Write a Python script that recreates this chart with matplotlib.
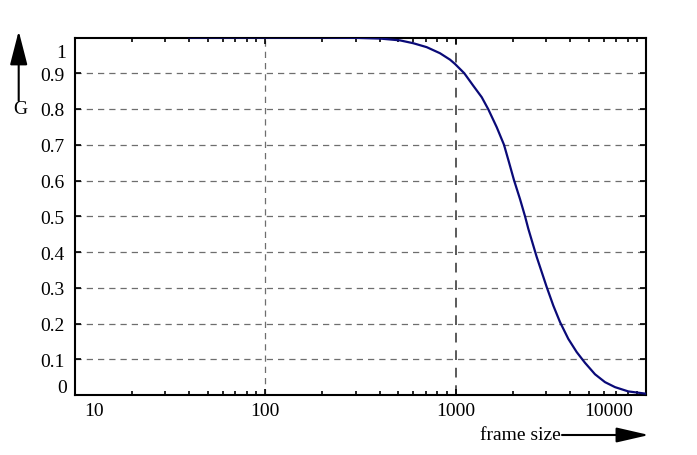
import matplotlib
matplotlib.use("Agg")
import matplotlib.pyplot as plt
import matplotlib.transforms as mtransforms
from matplotlib.ticker import LogLocator, NullFormatter

# ---- data ----
frame_size = [40, 100, 200, 300, 402, 511, 600, 706, 829, 936, 994, 1112,
              1240, 1373, 1487, 1646, 1797, 1909, 2028, 2181, 2317, 2411, 2561,
              2669, 2835, 3011, 3262, 3537, 3910, 4328, 4785, 5399, 6092, 6876,
              8075, 9881]
G = [1.0, 1.0, 1.0, 0.999, 0.997, 0.992, 0.984, 0.973, 0.956, 0.938, 0.926,
     0.900, 0.865, 0.833, 0.799, 0.749, 0.700, 0.651, 0.601, 0.548, 0.500,
     0.465, 0.418, 0.386, 0.344, 0.302, 0.250, 0.204, 0.157, 0.120, 0.090,
     0.058, 0.036, 0.022, 0.010, 0.004]

x_ticks = [10, 100, 1000, 10000]
x_tick_labels = ["10", "100", "1000", "10000"]
y_ticks = [0, 0.1, 0.2, 0.3, 0.4, 0.5, 0.6, 0.7, 0.8, 0.9, 1.0]
y_tick_labels = ["0", "0.1", "0.2", "0.3", "0.4", "0.5", "0.6", "0.7", "0.8", "0.9", "1"]
x_label = "frame size"
y_label = "G"

plt.rcParams['font.family'] = ['Liberation Serif', 'DejaVu Serif']
FS = 14

fig = plt.figure(figsize=(6.97, 4.56), dpi=100)
ax = fig.add_axes([74.5 / 697, 60 / 456, (646 - 74.5) / 697, (396 - 38.5) / 456])

ax.plot(frame_size, G, color="#0a0a78", lw=1.6, clip_on=True, zorder=3)

ax.set_xscale("log")
ax.set_xlim(10, 9965)
ax.set_ylim(0, 1.0)

ax.set_xticks(x_ticks)
ax.set_xticklabels(x_tick_labels, fontsize=FS)
ax.xaxis.set_minor_locator(LogLocator(base=10, subs=range(2, 10)))
ax.xaxis.set_minor_formatter(NullFormatter())
ax.set_yticks(y_ticks)
ax.set_yticklabels(y_tick_labels, fontsize=FS)

ax.tick_params(which="both", direction="in", top=True, right=True, width=1.2, color="black")
ax.tick_params(which="major", length=4.5, pad=5)
ax.tick_params(which="minor", length=2.6)
ax.tick_params(axis="y", pad=7)

for s in ax.spines.values():
    s.set_linewidth(1.5)

# grid
for yv in y_ticks[1:-1]:
    ax.axhline(yv, color="#6e6e6e", lw=0.9, ls=(0, (5, 4)), zorder=1)
ax.axvline(100, color="#6e6e6e", lw=0.9, ls=(0, (5, 4)), zorder=1)
ax.axvline(1000, color="#5a5a5a", lw=1.4, ls=(0, (5, 4)), zorder=1)

# shift edge tick labels inward like the reference
xl = ax.get_xticklabels()
xl[0].set_transform(xl[0].get_transform() + mtransforms.ScaledTranslation(20 / 100, 0, fig.dpi_scale_trans))
xl[-1].set_transform(xl[-1].get_transform() + mtransforms.ScaledTranslation(-37 / 100, 0, fig.dpi_scale_trans))
yl = ax.get_yticklabels()
yl[0].set_transform(yl[0].get_transform() + mtransforms.ScaledTranslation(2 / 100, 9 / 100, fig.dpi_scale_trans))
yl[-1].set_transform(yl[-1].get_transform() + mtransforms.ScaledTranslation(1 / 100, -13 / 100, fig.dpi_scale_trans))

# axis labels with arrows
fig.text(20 / 697, 346 / 456, y_label, fontsize=FS, ha="center", va="center")
ax.annotate("", xy=(18.7, 424), xytext=(18.7, 354), xycoords="figure pixels",
            textcoords="figure pixels",
            arrowprops=dict(arrowstyle="-|>,head_length=1.05,head_width=0.27",
                            mutation_scale=20, lw=1.5, color="black",
                            shrinkA=0, shrinkB=0))
fig.text(561 / 697, 20 / 456, x_label, fontsize=FS, ha="right", va="center")
ax.annotate("", xy=(649, 20), xytext=(562, 20), xycoords="figure pixels",
            textcoords="figure pixels",
            arrowprops=dict(arrowstyle="-|>,head_length=1.0,head_width=0.23",
                            mutation_scale=20, lw=1.5, color="black",
                            shrinkA=0, shrinkB=0))

fig.savefig("out.png", dpi=100)
